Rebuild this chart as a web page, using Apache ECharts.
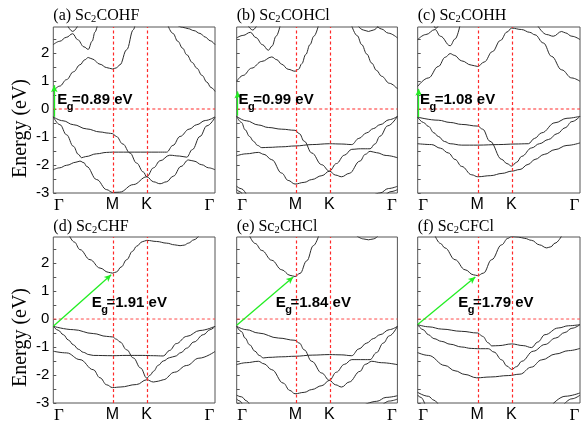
<!DOCTYPE html>
<html><head><meta charset="utf-8">
<script src="https://cdn.jsdelivr.net/npm/echarts@6/dist/echarts.min.js"></script>
<style>html,body{margin:0;padding:0;background:#fff}#c{width:581px;height:427px}</style>
</head><body><div id="c"></div>
<script>
// ---- DATA ----
// k-path as fraction of path length: Γ, M, K, Γ
const kTicks = [0, 0.366, 0.577, 1];
const kLabels = ['Γ', 'M', 'K', 'Γ'];
const energyTicks = [-3, -2, -1, 0, 1, 2];
const energyMinorTicks = [-3, -2.5, -2, -1.5, -1, -0.5, 0, 0.5, 1, 1.5, 2, 2.5];
const energyRange = [-3, 2.93];
const fermiLevel = 0;
const titleParts = [
  ['(a) Sc', '2', 'COHF'], ['(b) Sc', '2', 'COHCl'], ['(c) Sc', '2', 'COHH'],
  ['(d) Sc', '2', 'CHF'], ['(e) Sc', '2', 'CHCl'], ['(f) Sc', '2', 'CFCl']
];
const gapValues = ['0.89', '0.99', '1.08', '1.91', '1.84', '1.79'];

// gap arrows [from, to] in (k, E)
const arrowA = [[0.006, -0.28], [0.006, 0.85]];
const arrowB = [[0.006, -0.24], [0.006, 0.63]];
const arrowC = [[0.006, -0.29], [0.006, 0.72]];
const arrowD = [[0, -0.26], [0.358, 1.58]];
const arrowE = [[0, -0.22], [0.352, 1.5]];
const arrowF = [[0, -0.2], [0.355, 1.5]];

const bandsA = [
  [[0,0.63],[0.04,0.82],[0.082,1.05],[0.125,1.33],[0.165,1.58],[0.195,1.76],[0.216,1.84],[0.24,1.79],[0.289,1.6],[0.33,1.48],[0.366,1.43],[0.39,1.47],[0.412,1.58],[0.454,2.12],[0.495,2.83],[0.505,2.98]],
  [[0,2.30],[0.04,2.42],[0.08,2.56],[0.12,2.69],[0.15,2.48],[0.19,2.22],[0.216,2.13],[0.24,2.42],[0.258,2.75],[0.272,2.98]],
  [[0.088,2.98],[0.12,2.77],[0.152,2.98]],
  [[0.71,2.97],[0.74,2.7],[0.77,2.42],[0.8,2.17],[0.825,1.94],[0.86,1.66],[0.887,1.46],[0.92,1.2],[0.95,0.96],[0.975,0.77],[1,0.63]],
  [[0.77,2.98],[0.8,2.92],[0.835,2.87],[0.87,2.8],[0.907,2.7],[0.94,2.57],[0.97,2.44],[1,2.30]],
  [[0,-0.28],[0.06,-0.42],[0.124,-0.56],[0.206,-0.71],[0.289,-0.82],[0.34,-0.86],[0.366,-0.88],[0.39,-0.98],[0.43,-1.25],[0.474,-1.57],[0.515,-1.93],[0.557,-2.25],[0.578,-2.42],[0.62,-2.6],[0.66,-2.67],[0.7,-2.6],[0.742,-2.4],[0.79,-2.05],[0.835,-1.82],[0.87,-1.86],[0.918,-1.99],[0.96,-2.1],[1,-2.17]],
  [[0,-2.17],[0.04,-2.1],[0.082,-2.01],[0.14,-1.9],[0.165,-1.86],[0.19,-1.92],[0.206,-2.05],[0.268,-2.52],[0.33,-2.88],[0.366,-2.98],[0.41,-2.97],[0.495,-2.7],[0.578,-2.42],[0.62,-2.1],[0.66,-1.85],[0.72,-1.65],[0.78,-1.68],[0.825,-1.72],[0.86,-1.45],[0.907,-0.98],[0.95,-0.6],[1,-0.3]],
  [[0,-0.28],[0.041,-0.56],[0.082,-0.92],[0.124,-1.33],[0.155,-1.62],[0.175,-1.74],[0.2,-1.7],[0.268,-1.6],[0.33,-1.55],[0.366,-1.54],[0.5,-1.54],[0.65,-1.54],[0.701,-1.54],[0.74,-1.3],[0.784,-0.98],[0.84,-0.72],[0.887,-0.56],[0.94,-0.41],[1,-0.28]]
];

const bandsB = [
  [[0,0.99],[0.04,1.2],[0.093,1.46],[0.156,1.70],[0.218,1.86],[0.25,1.76],[0.28,1.6],[0.32,1.42],[0.363,1.35],[0.385,1.42],[0.405,1.62],[0.43,1.95],[0.456,2.3],[0.48,2.6],[0.508,2.97]],
  [[0,2.54],[0.04,2.63],[0.085,2.74],[0.12,2.55],[0.16,2.3],[0.197,2.10],[0.22,2.25],[0.245,2.6],[0.27,2.97]],
  [[0.07,2.98],[0.1,2.82],[0.125,2.98]],
  [[0.716,2.97],[0.75,2.62],[0.778,2.30],[0.81,1.96],[0.84,1.64],[0.87,1.38],[0.902,1.17],[0.95,0.92],[1,0.72]],
  [[0.757,2.95],[0.79,2.82],[0.82,2.77],[0.85,2.82],[0.88,2.95]],
  [[0.87,2.98],[0.9,2.86],[0.944,2.71],[1,2.54]],
  [[0,-0.26],[0.06,-0.42],[0.135,-0.57],[0.197,-0.66],[0.28,-0.72],[0.363,-0.76],[0.39,-0.88],[0.42,-1.15],[0.467,-1.57],[0.529,-1.99],[0.577,-2.22],[0.615,-2.36],[0.653,-2.42],[0.7,-2.3],[0.767,-1.86],[0.8,-1.62],[0.83,-1.51],[0.87,-1.56],[0.93,-1.66],[1,-1.74]],
  [[0,-0.26],[0.03,-0.48],[0.052,-0.74],[0.08,-0.98],[0.104,-1.15],[0.13,-1.3],[0.156,-1.38],[0.2,-1.37],[0.28,-1.35],[0.363,-1.32],[0.47,-1.27],[0.577,-1.24],[0.65,-1.25],[0.716,-1.27],[0.76,-1.05],[0.809,-0.85],[0.85,-0.7],[0.892,-0.56],[0.95,-0.38],[1,-0.26]],
  [[0,-1.67],[0.06,-1.6],[0.135,-1.55],[0.17,-1.62],[0.218,-1.81],[0.28,-2.29],[0.32,-2.55],[0.363,-2.68],[0.42,-2.62],[0.467,-2.52],[0.53,-2.38],[0.577,-2.22],[0.62,-1.95],[0.67,-1.65],[0.716,-1.44],[0.77,-1.42],[0.83,-1.42],[0.86,-1.25],[0.892,-0.97],[0.94,-0.6],[1,-0.26]],
  [[0,-2.76],[0.03,-2.85],[0.06,-3.05]],
  [[0,-2.88],[0.02,-2.95],[0.035,-3.05]],
  [[0.86,-3.05],[0.892,-3.0],[0.944,-2.84],[1,-2.76]],
  [[0.93,-3.05],[0.96,-2.95],[1,-2.88]]
];

const bandsC = [
  [[0,0.81],[0.066,1.11],[0.127,1.52],[0.17,1.85],[0.2,1.98],[0.225,1.92],[0.271,1.72],[0.33,1.57],[0.37,1.52],[0.41,1.68],[0.46,2.05],[0.51,2.45],[0.55,2.75],[0.579,2.89],[0.64,2.84],[0.69,2.74],[0.723,2.65],[0.774,2.36],[0.825,1.88],[0.887,1.40],[0.949,1.11],[1,0.99]],
  [[0,2.48],[0.05,2.66],[0.107,2.84],[0.14,2.6],[0.2,2.26],[0.23,2.5],[0.26,2.97]],
  [[0.1,2.98],[0.112,2.88],[0.128,2.98]],
  [[0.74,2.97],[0.795,2.66],[0.835,2.6],[0.887,2.77],[0.91,2.72],[0.95,2.6],[1,2.48]],
  [[0,-0.29],[0.127,-0.40],[0.2,-0.48],[0.271,-0.55],[0.37,-0.61],[0.4,-0.72],[0.445,-1.15],[0.518,-1.80],[0.55,-1.95],[0.579,-2.04],[0.61,-1.9],[0.641,-1.69],[0.702,-1.39],[0.75,-1.24],[0.805,-1.09],[0.86,-0.88],[0.908,-0.67],[0.95,-0.45],[1,-0.26]],
  [[0,-0.29],[0.035,-0.48],[0.066,-0.62],[0.1,-0.85],[0.127,-0.98],[0.165,-1.16],[0.2,-1.24],[0.271,-1.29],[0.37,-1.29],[0.5,-1.27],[0.6,-1.25],[0.682,-1.24],[0.72,-1.05],[0.764,-0.85],[0.846,-0.49],[0.92,-0.33],[1,-0.26]],
  [[0,-1.24],[0.086,-1.27],[0.14,-1.4],[0.189,-1.57],[0.23,-1.8],[0.271,-2.05],[0.333,-2.35],[0.37,-2.42],[0.45,-2.38],[0.52,-2.3],[0.579,-2.22],[0.63,-2.16],[0.68,-1.98],[0.723,-1.80],[0.78,-1.62],[0.846,-1.45],[0.92,-1.3],[1,-1.21]]
];

const bandsD = [
  [[0.1,2.97],[0.13,2.75],[0.165,2.48],[0.227,2.12],[0.289,1.82],[0.34,1.67],[0.366,1.64],[0.39,1.68],[0.42,1.86],[0.454,2.12],[0.49,2.42],[0.515,2.60],[0.55,2.76],[0.578,2.81],[0.639,2.77],[0.701,2.71],[0.75,2.65],[0.784,2.62],[0.81,2.64],[0.835,2.71],[0.87,2.83],[0.9,2.97]],
  [[0,-0.26],[0.124,-0.38],[0.247,-0.52],[0.33,-0.62],[0.366,-0.64],[0.39,-0.72],[0.413,-0.82],[0.454,-1.1],[0.495,-1.39],[0.54,-1.75],[0.578,-2.11],[0.6,-2.0],[0.619,-1.87],[0.65,-1.65],[0.68,-1.5],[0.72,-1.38],[0.753,-1.33],[0.79,-1.2],[0.825,-1.04],[0.87,-0.82],[0.928,-0.56],[0.97,-0.38],[1,-0.26]],
  [[0,-0.26],[0.03,-0.4],[0.062,-0.56],[0.093,-0.75],[0.124,-0.92],[0.155,-1.08],[0.186,-1.19],[0.22,-1.27],[0.247,-1.30],[0.366,-1.31],[0.45,-1.30],[0.55,-1.30],[0.62,-1.31],[0.68,-1.32],[0.72,-1.12],[0.76,-0.88],[0.825,-0.62],[0.907,-0.41],[1,-0.26]],
  [[0,-1.15],[0.082,-1.21],[0.165,-1.45],[0.247,-1.81],[0.289,-2.1],[0.33,-2.35],[0.366,-2.45],[0.413,-2.43],[0.515,-2.34],[0.578,-2.17],[0.619,-2.25],[0.65,-2.22],[0.68,-2.17],[0.75,-1.9],[0.825,-1.66],[0.9,-1.4],[1,-1.16]]
];

const bandsE = [
  [[0.08,2.97],[0.115,2.7],[0.156,2.45],[0.218,2.1],[0.28,1.76],[0.332,1.56],[0.363,1.52],[0.394,1.63],[0.436,2.08],[0.477,2.62],[0.51,2.97]],
  [[0.747,2.97],[0.79,2.86],[0.82,2.83],[0.85,2.86],[0.88,2.97]],
  [[0,-0.26],[0.06,-0.38],[0.135,-0.5],[0.26,-0.68],[0.363,-0.76],[0.39,-0.86],[0.42,-1.1],[0.467,-1.51],[0.529,-1.93],[0.577,-2.19],[0.615,-2.35],[0.653,-2.43],[0.7,-2.25],[0.767,-1.87],[0.8,-1.62],[0.84,-1.51],[0.9,-1.56],[1,-1.63]],
  [[0,-0.26],[0.03,-0.45],[0.052,-0.68],[0.08,-0.92],[0.114,-1.15],[0.14,-1.3],[0.166,-1.39],[0.2,-1.37],[0.28,-1.35],[0.363,-1.33],[0.47,-1.29],[0.577,-1.27],[0.65,-1.28],[0.716,-1.31],[0.76,-1.07],[0.809,-0.86],[0.85,-0.7],[0.892,-0.56],[0.95,-0.38],[1,-0.26]],
  [[0,-1.63],[0.06,-1.56],[0.135,-1.51],[0.17,-1.6],[0.218,-1.81],[0.29,-2.29],[0.33,-2.55],[0.363,-2.67],[0.42,-2.62],[0.467,-2.52],[0.53,-2.38],[0.577,-2.19],[0.62,-1.9],[0.67,-1.62],[0.716,-1.45],[0.77,-1.45],[0.83,-1.45],[0.87,-1.2],[0.912,-0.86],[0.95,-0.6],[1,-0.26]],
  [[0,-2.72],[0.03,-2.78],[0.06,-2.92],[0.08,-3.05]],
  [[0,-2.86],[0.02,-2.93],[0.035,-3.05]],
  [[0.8,-3.05],[0.871,-2.94],[0.93,-2.8],[1,-2.74]],
  [[0.91,-3.05],[0.95,-2.93],[1,-2.86]]
];

const bandsF = [
  [[0.107,2.97],[0.14,2.7],[0.168,2.54],[0.23,2.12],[0.292,1.76],[0.343,1.58],[0.37,1.55],[0.405,1.64],[0.456,2.12],[0.517,2.65],[0.555,2.88],[0.579,2.95],[0.62,2.93],[0.66,2.88],[0.702,2.81],[0.75,2.65],[0.795,2.54],[0.82,2.58],[0.846,2.71],[0.887,2.97]],
  [[0,-0.2],[0.07,-0.28],[0.148,-0.36],[0.271,-0.44],[0.37,-0.5],[0.4,-0.62],[0.435,-0.85],[0.456,-0.96],[0.5,-0.95],[0.579,-0.89],[0.65,-0.95],[0.702,-1.02],[0.74,-0.82],[0.784,-0.56],[0.866,-0.32],[0.93,-0.24],[1,-0.2]],
  [[0,-0.2],[0.033,-0.38],[0.066,-0.56],[0.1,-0.7],[0.148,-0.8],[0.2,-0.9],[0.271,-1.0],[0.33,-1.05],[0.37,-1.06],[0.435,-1.06],[0.47,-1.18],[0.518,-1.46],[0.55,-1.68],[0.579,-1.8],[0.61,-1.7],[0.641,-1.51],[0.712,-1.15],[0.784,-0.91],[0.85,-0.68],[0.907,-0.48],[0.95,-0.33],[1,-0.2]],
  [[0,-1.2],[0.066,-1.3],[0.168,-1.66],[0.23,-1.85],[0.291,-1.98],[0.363,-2.1],[0.45,-2.07],[0.558,-2.02],[0.63,-1.97],[0.7,-1.72],[0.764,-1.46],[0.85,-1.25],[0.93,-1.13],[1,-1.05]],
  [[0,-2.62],[0.066,-2.76],[0.1,-2.9],[0.127,-3.05]],
  [[0,-2.72],[0.02,-2.8],[0.045,-3.05]],
  [[0.83,-3.05],[0.908,-2.76],[1,-2.64]],
  [[0.9,-3.05],[0.95,-2.85],[1,-2.72]]
];

// ---- LAYOUT ----
const panelBands = [bandsA, bandsB, bandsC, bandsD, bandsE, bandsF];
const panelArrows = [arrowA, arrowB, arrowC, arrowD, arrowE, arrowF];
const cols = [[53.3, 161.7], [236.7, 160.7], [417.7, 162.3]];
const rows = [27, 237];
const plotH = 166;
const egPos = [[57.3, 99.5], [238.5, 99.5], [420, 99.5], [91.7, 303], [275.7, 303], [458.3, 303]];
const titleY = [15.5, 226.5];

const chart = echarts.init(document.getElementById('c'), null, {renderer: 'canvas'});
const grids = [], xAxes = [], yAxes = [], series = [];
for (let p = 0; p < 6; p++) {
  const c = cols[p % 3], top = rows[Math.floor(p / 3)];
  const bottomRow = p >= 3;
  grids.push({left: c[0], top: top, width: c[1], height: plotH, show: true,
    borderColor: '#555', borderWidth: 1, backgroundColor: 'transparent',
    containLabel: false, outerBoundsMode: 'none'});
  xAxes.push({type: 'value', gridIndex: p, min: 0, max: 1,
    axisLine: {show: false, onZero: false}, axisTick: {show: false}, splitLine: {show: false},
    axisLabel: {show: true, customValues: kTicks, margin: 4, color: '#000',
      formatter: function (v) {
        let best = 0;
        for (let i = 1; i < kTicks.length; i++) if (Math.abs(kTicks[i] - v) < Math.abs(kTicks[best] - v)) best = i;
        const lab = kLabels[best];
        if (lab === 'Γ') return best === 0 ? '{gl|Γ}' : '{gr|Γ}';
        return '{s|' + lab + '}';
      },
      rich: {
        gl: {fontFamily: 'Liberation Serif', fontSize: 17, color: '#000', padding: [0, 0, 0, 11]},
        gr: {fontFamily: 'Liberation Serif', fontSize: 17, color: '#000', padding: [0, 11, 0, 0]},
        s: {fontFamily: 'Liberation Sans', fontSize: 16, color: '#000'}
      }}});
  yAxes.push({type: 'value', gridIndex: p, min: energyRange[0], max: energyRange[1],
    axisLine: {show: false, onZero: false}, splitLine: {show: false},
    axisTick: {show: true, inside: true, length: 3, customValues: energyMinorTicks, lineStyle: {color: '#555', width: 1}},
    axisLabel: {show: p % 3 === 0, customValues: energyTicks, margin: 4, color: '#000',
      fontFamily: 'Liberation Sans', fontSize: 15}});
  // Fermi level dashed line
  series.push({type: 'line', xAxisIndex: p, yAxisIndex: p, data: [[0, fermiLevel], [1, fermiLevel]],
    symbol: 'none', showSymbol: false, silent: true, z: 4,
    lineStyle: bottomRow ? {color: '#ff4a4a', type: [3, 2.5], width: 1} : {color: '#ff2a2a', type: [3, 2.5], width: 1.2}});
  const bands = panelBands[p];
  bands.forEach(function (b, i) {
    const s = {type: 'line', xAxisIndex: p, yAxisIndex: p, data: b, smooth: 0.4, smoothMonotone: 'x',
      symbol: 'none', showSymbol: false, silent: true, clip: true, z: 3,
      lineStyle: {color: '#2b2b2b', width: 1}};
    if (i === 0) {
      s.markLine = {silent: true, symbol: 'none', animation: false, label: {show: false}, z: 4,
        lineStyle: {color: '#ff2a2a', type: [3, 2.5], width: 1.2},
        data: [{xAxis: kTicks[1]}, {xAxis: kTicks[2]}]};
    }
    if (i === 1) {
      const a = panelArrows[p];
      s.markLine = {silent: true, symbol: ['none', 'arrow'], symbolSize: [5, 7], animation: false,
        label: {show: false}, z: 5, lineStyle: {color: '#22ee22', type: 'solid', width: 1.3},
        data: [[{coord: a[0]}, {coord: a[1]}]]};
    }
    series.push(s);
  });
}

// text helpers
const mctx = document.createElement('canvas').getContext('2d');
function tw(t, font) { mctx.font = font; return mctx.measureText(t).width; }
const graphics = [];
function pieces(list, x, y) {
  let cx = x;
  list.forEach(function (pc) {
    const font = (pc.bold ? 'bold ' : '') + pc.size + 'px ' + pc.family;
    graphics.push({type: 'text', x: cx + (pc.dx || 0), y: y + (pc.dy || 0), silent: true, z: 10,
      style: {text: pc.t, font: font, fill: '#000', textAlign: 'left', textVerticalAlign: 'middle', verticalAlign: 'middle'}});
    cx += tw(pc.t, font) + (pc.adv || 0);
  });
}
for (let p = 0; p < 6; p++) {
  const tp = titleParts[p];
  const tx = cols[p % 3][0], ty = titleY[Math.floor(p / 3)];
  pieces([
    {t: tp[0], size: 16, family: 'Liberation Serif'},
    {t: tp[1], size: 10.5, family: 'Liberation Serif', dy: 4, adv: 0.3},
    {t: tp[2], size: 16, family: 'Liberation Serif'}
  ], tx, ty);
  const ep = egPos[p];
  const gdy = p < 3 ? 7.5 : 7;
  pieces([
    {t: 'E', size: 15, family: 'Liberation Sans', bold: true, adv: -0.5},
    {t: 'g', size: 11, family: 'Liberation Sans', bold: true, dy: gdy, adv: -1.5},
    {t: '=' + gapValues[p] + ' eV', size: 15, family: 'Liberation Sans', bold: true}
  ], ep[0], ep[1]);
}
[128.5, 337.5].forEach(function (cy) {
  graphics.push({type: 'text', x: 21, y: cy, rotation: Math.PI / 2, silent: true, z: 10,
    style: {text: 'Energy (eV)', font: '20px Liberation Serif', fill: '#000', textAlign: 'center', textVerticalAlign: 'middle', verticalAlign: 'middle'}});
});

chart.setOption({
  animation: false,
  backgroundColor: '#fff',
  grid: grids, xAxis: xAxes, yAxis: yAxes, series: series,
  graphic: {elements: graphics}
});
</script>
</body></html>
